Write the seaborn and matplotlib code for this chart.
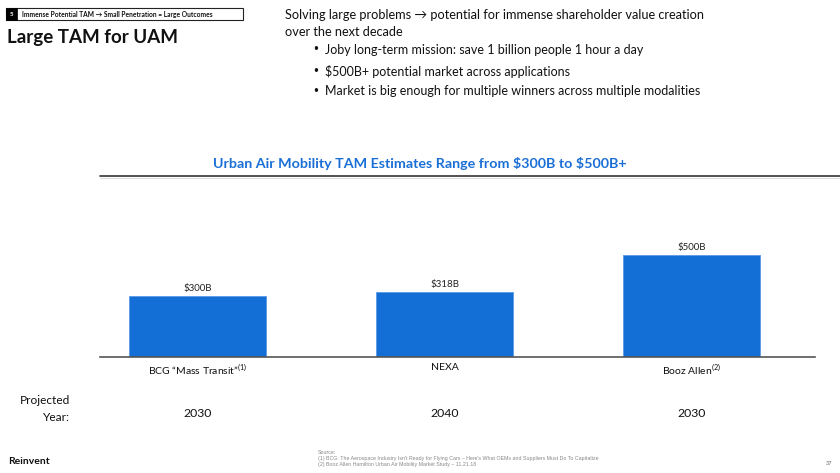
import matplotlib
matplotlib.use("Agg")
import matplotlib.pyplot as plt
import seaborn as sns
import pandas as pd
from matplotlib.patches import Rectangle

sns.set_theme(style="white")
plt.rcParams['font.family'] = ['Lato', 'DejaVu Sans']
plt.rcParams['mathtext.fontset'] = 'custom'
plt.rcParams['mathtext.rm'] = 'Lato'

# ---- data ----
categories = ["BCG \u201cMass Transit\u201d$^{(1)}$", "NEXA", "Booz Allen$^{(2)}$"]
tam_values = [300, 318, 500]
value_labels = ["$300B", "$318B", "$500B"]
projected_years = ["2030", "2040", "2030"]

W, H = 840, 473
fig = plt.figure(figsize=(W / 100, H / 100), dpi=100)
fig.patch.set_facecolor("white")

def fx(x):
    return x / W

def fy(y):
    return 1 - y / H

# ---- bar axes ----
base_y = 357
top_y = 237
ax_left, ax_right = 100, 815
ax = fig.add_axes([fx(ax_left), fy(base_y), (ax_right - ax_left) / W, (base_y - top_y) / H])
df = pd.DataFrame({"cat": categories, "val": tam_values})
bar_color = "#136fd5"
sns.barplot(data=df, x="cat", y="val", color=bar_color, width=0.555, saturation=1,
            ax=ax, edgecolor="#5a9ae6", linewidth=0.6)
ax.set_ylim(0, 120 / 0.204)
ax.set_xlim(-0.397, 2.50)
for s in ["top", "right", "left"]:
    ax.spines[s].set_visible(False)
ax.spines["bottom"].set_color("#555555")
ax.spines["bottom"].set_linewidth(1.2)
ax.set_yticks([])
ax.set_xlabel("")
ax.set_ylabel("")
ax.tick_params(axis="x", length=0, pad=4, labelsize=7.5, labelcolor="#111111")
ax.set_facecolor("none")
for i, (v, lab) in enumerate(zip(tam_values, value_labels)):
    ax.annotate(lab.replace("$", r"\$"), (i, v), xytext=(0, 2), textcoords="offset points",
                ha="center", va="bottom", fontsize=7, color="#222222")

# ---- projected years ----
centers_px = [198, 444.5, 691.5]
fig.text(fx(70), fy(400), "Projected", ha="right", va="center", fontsize=8.6, color="#111111")
fig.text(fx(70), fy(417), "Year:", ha="right", va="center", fontsize=8.6, color="#111111")
for cx, yr in zip(centers_px, projected_years):
    fig.text(fx(cx), fy(413), yr, ha="center", va="center", fontsize=8.8, color="#111111")

# ---- header box ----
fig.add_artist(Rectangle((fx(6), fy(20)), (243 - 6) / W, 12 / H, transform=fig.transFigure,
                         facecolor="white", edgecolor="#222222", linewidth=0.8))
fig.add_artist(Rectangle((fx(6), fy(20)), 11 / W, 12 / H, transform=fig.transFigure,
                         facecolor="black", edgecolor="black", linewidth=0.5))
fig.text(fx(11.5), fy(14), "5", ha="center", va="center", fontsize=4.5, color="white", fontweight="bold")
fig.text(fx(22), fy(14), "Immense Potential TAM \u2192 Small Penetration = Large Outcomes",
         ha="left", va="center", fontsize=4.8, color="#111111", fontweight="bold",
         family=["Lato", "DejaVu Sans"])

fig.text(fx(7), fy(38), "Large TAM for UAM", ha="left", va="center", fontsize=13.5,
         fontweight="bold", color="#111111")

# ---- right text ----
fig.text(fx(285), fy(15), "Solving large problems \u2192 potential for immense shareholder value creation",
         ha="left", va="center", fontsize=9.2, color="#111111", family=["Lato", "DejaVu Sans"])
fig.text(fx(285), fy(32), "over the next decade", ha="left", va="center", fontsize=9.2, color="#111111")
bullets = ["Joby long-term mission: save 1 billion people 1 hour a day",
           "$500B+ potential market across applications",
           "Market is big enough for multiple winners across multiple modalities"]
for yy, b in zip([50, 71, 91], bullets):
    fig.text(fx(312), fy(yy), "\u2022", ha="left", va="center", fontsize=8.5, color="#111111",
             family=["DejaVu Sans"])
    fig.text(fx(325), fy(yy), b.replace("$", r"\$"), ha="left", va="center", fontsize=9.0, color="#111111")

# ---- chart title ----
fig.text(fx(420), fy(163), "Urban Air Mobility TAM Estimates Range from \\$300B to \\$500B+",
         ha="center", va="center", fontsize=10.3, fontweight="bold", color="#1a6fd6")
fig.add_artist(plt.Line2D([fx(100), fx(840)], [fy(176), fy(176)], transform=fig.transFigure,
                          color="#333333", linewidth=1.2))
fig.add_artist(plt.Line2D([fx(100), fx(840)], [fy(178), fy(178)], transform=fig.transFigure,
                          color="#dddddd", linewidth=0.8))

# ---- footer ----
fig.text(fx(8), fy(461), "Reinvent", ha="left", va="center", fontsize=7.5, color="#111111",
         fontweight="bold")
src = ["Source:",
       "(1) BCG: The Aerospace Industry Isn't Ready for Flying Cars \u2013 Here's What OEMs and Suppliers Must Do To Capitalize",
       "(2) Booz Allen Hamilton Urban Air Mobility Market Study \u2013 11.21.18"]
for yy, s in zip([452, 458, 464], src):
    fig.text(fx(318), fy(yy), s, ha="left", va="center", fontsize=3.75, color="#888888",
             family=["Liberation Sans", "DejaVu Sans"])
fig.text(fx(832), fy(463), "37", ha="right", va="center", fontsize=4, color="#666666")

fig.savefig("out.png", dpi=100, facecolor="white")
